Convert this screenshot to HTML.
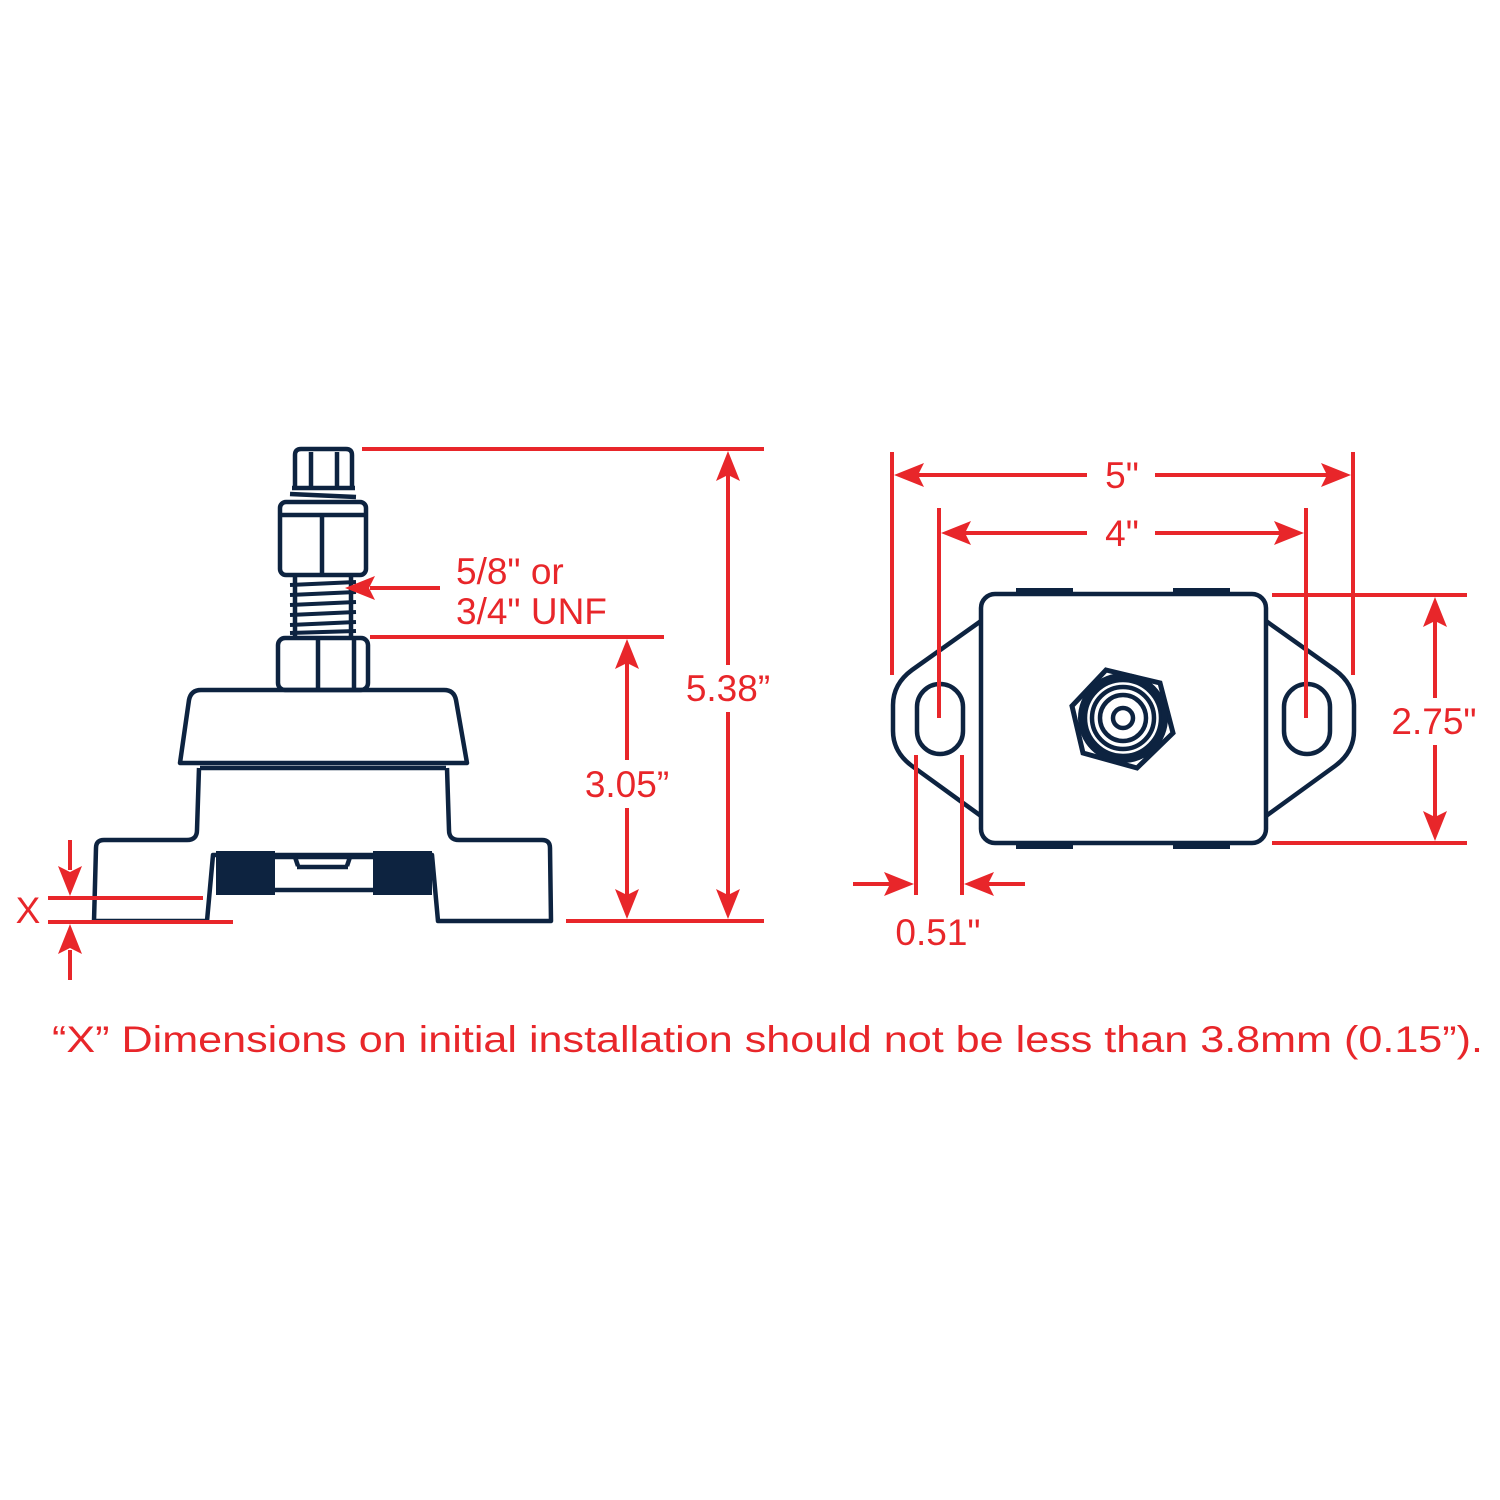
<!DOCTYPE html>
<html><head><meta charset="utf-8"><style>
html,body{margin:0;padding:0;background:#fff;}
svg{display:block;}
text{font-family:"Liberation Sans",sans-serif;fill:#e8262a;}
</style></head><body>
<svg width="1500" height="1500" viewBox="0 0 1500 1500" xmlns="http://www.w3.org/2000/svg">
<rect width="1500" height="1500" fill="#fff"/>
<g fill="none" stroke="#0d2340" stroke-width="4.5" stroke-linejoin="round">
  <!-- top nut -->
  <path d="M295,487 L295,455 Q295,449 301,449 L346,449 Q352,449 352,455 L352,487"/>
  <line x1="311" y1="452" x2="311" y2="487"/><line x1="337" y1="452" x2="337" y2="487"/>
  <line x1="292" y1="488" x2="355" y2="488"/>
  <line x1="290" y1="494" x2="356" y2="497"/>
  <!-- big nut -->
  <rect x="280" y="502" width="86" height="73" rx="6"/>
  <line x1="282" y1="515" x2="364" y2="515"/>
  <line x1="322" y1="515" x2="322" y2="573"/>
  <!-- thread -->
  <line x1="295" y1="577" x2="295" y2="637"/><line x1="351" y1="577" x2="351" y2="637"/>
  <g stroke-width="4"><line x1="290" y1="585" x2="356" y2="582"/><line x1="290" y1="595" x2="356" y2="592"/><line x1="290" y1="605" x2="356" y2="602"/><line x1="290" y1="615" x2="356" y2="612"/><line x1="290" y1="625" x2="356" y2="622"/><line x1="290" y1="633" x2="356" y2="631"/></g>
  <!-- lower nut -->
  <rect x="278" y="638" width="90" height="52" rx="7"/>
  <line x1="318" y1="640" x2="318" y2="690"/><line x1="354" y1="640" x2="354" y2="690"/>
  <!-- cap -->
  <path d="M180,763 L189,700 Q191,690 201,690 L444,690 Q454,690 456,700 L467,763 Z"/>
  <line x1="200" y1="768" x2="446" y2="768"/>
  <!-- body -->
  <path d="M199,768 L197,830 Q197,840 187,840 L104,840 Q96,840 96,848 L94,921 L207,921 L213,855 L432,855 L438,921 L551,921 L550,848 Q550,840 542,840 L459,840 Q449,840 449,830 L447,768"/>
  <line x1="275" y1="857" x2="373" y2="857"/>
  <line x1="275" y1="890" x2="373" y2="890"/>
  <line x1="295" y1="857" x2="298" y2="866"/><line x1="350" y1="857" x2="347" y2="866"/>
  <line x1="297" y1="867" x2="348" y2="867"/>
</g>
<rect x="216" y="851" width="59" height="44" fill="#0d2340"/>
<rect x="373" y="851" width="59" height="44" fill="#0d2340"/>

<!-- right figure -->
<g fill="none" stroke="#0d2340" stroke-width="4.5" stroke-linejoin="round">
  <path d="M981,621 L912,670 Q893,684 893,705 L893,731 Q893,752 912,766 L981,816"/>
  <path d="M1266,621 L1335,670 Q1354,684 1354,705 L1354,731 Q1354,752 1335,766 L1266,816"/>
  <rect x="917" y="684" width="46" height="70" rx="23"/>
  <rect x="1284" y="684" width="46" height="70" rx="23"/>
  <rect x="981" y="594" width="285" height="249" rx="14"/>
  <circle cx="1123" cy="718" r="38"/>
  <circle cx="1123" cy="718" r="31"/>
  <circle cx="1123" cy="718" r="23"/>
  <circle cx="1123" cy="718" r="10"/>
</g>
<polygon points="1106,670 1160,683 1173,733 1137,768 1083,753 1072,706" fill="none" stroke="#0d2340" stroke-width="5"/>
<circle cx="1123" cy="718" r="42" fill="none" stroke="#0d2340" stroke-width="6"/>
<g fill="#0d2340">
  <rect x="1016" y="588" width="57" height="8"/><rect x="1173" y="588" width="57" height="8"/>
  <rect x="1016" y="841" width="57" height="8"/><rect x="1173" y="841" width="57" height="8"/>
</g>

<!-- red dimensions -->
<g stroke="#e8262a" stroke-width="4" fill="none">
  <line x1="362" y1="449" x2="764" y2="449"/>
  <line x1="370" y1="637" x2="664" y2="637"/>
  <line x1="566" y1="921" x2="764" y2="921"/>
  <line x1="728" y1="470" x2="728" y2="665"/><line x1="728" y1="712" x2="728" y2="900"/>
  <line x1="627" y1="660" x2="627" y2="760"/><line x1="627" y1="808" x2="627" y2="900"/>
  <line x1="370" y1="588" x2="440" y2="588"/>
  <line x1="48" y1="898" x2="203" y2="898"/>
  <line x1="48" y1="922" x2="233" y2="922"/>
  <line x1="70" y1="840" x2="70" y2="870"/><line x1="70" y1="950" x2="70" y2="980"/>
  <!-- right -->
  <line x1="892" y1="452" x2="892" y2="675"/><line x1="1353" y1="452" x2="1353" y2="675"/>
  <line x1="915" y1="475" x2="1087" y2="475"/><line x1="1155" y1="475" x2="1330" y2="475"/>
  <line x1="939" y1="508" x2="939" y2="718"/><line x1="1306" y1="508" x2="1306" y2="718"/>
  <line x1="960" y1="533" x2="1087" y2="533"/><line x1="1155" y1="533" x2="1285" y2="533"/>
  <line x1="1272" y1="595" x2="1467" y2="595"/><line x1="1272" y1="843" x2="1467" y2="843"/>
  <line x1="1435" y1="615" x2="1435" y2="698"/><line x1="1435" y1="745" x2="1435" y2="822"/>
  <line x1="916" y1="755" x2="916" y2="895"/><line x1="962" y1="755" x2="962" y2="895"/>
  <line x1="853" y1="884" x2="895" y2="884"/><line x1="983" y1="884" x2="1025" y2="884"/>
</g>
<g fill="#e8262a">
  <!-- vertical up arrows -->
  <path d="M728,451 l-12,30 l12,-6 l12,6 z"/>
  <path d="M728,919 l-12,-30 l12,6 l12,-6 z"/>
  <path d="M627,639 l-12,30 l12,-6 l12,6 z"/>
  <path d="M627,919 l-12,-30 l12,6 l12,-6 z"/>
  <path d="M345,588 l30,-12 l-6,12 l6,12 z"/>
  <path d="M70,896 l-12,-30 l12,6 l12,-6 z"/>
  <path d="M70,924 l-12,30 l12,-6 l12,6 z"/>
  <path d="M894,475 l30,-12 l-6,12 l6,12 z"/>
  <path d="M1351,475 l-30,-12 l6,12 l-6,12 z"/>
  <path d="M941,533 l30,-12 l-6,12 l6,12 z"/>
  <path d="M1304,533 l-30,-12 l6,12 l-6,12 z"/>
  <path d="M1435,597 l-12,30 l12,-6 l12,6 z"/>
  <path d="M1435,841 l-12,-30 l12,6 l12,-6 z"/>
  <path d="M914,884 l-30,-12 l6,12 l-6,12 z"/>
  <path d="M964,884 l30,-12 l-6,12 l6,12 z"/>
</g>
<g font-size="37">
  <text x="456" y="584">5/8" or</text>
  <text x="456" y="624">3/4" UNF</text>
  <text x="728" y="701" text-anchor="middle">5.38”</text>
  <text x="627" y="797" text-anchor="middle">3.05”</text>
  <text x="28" y="923" text-anchor="middle">X</text>
  <text x="1122" y="488" text-anchor="middle">5"</text>
  <text x="1122" y="546" text-anchor="middle">4"</text>
  <text x="1434" y="734" text-anchor="middle">2.75"</text>
  <text x="938" y="945" text-anchor="middle">0.51"</text>
  <text x="52" y="1052" textLength="1431" lengthAdjust="spacingAndGlyphs">“X” Dimensions on initial installation should not be less than 3.8mm (0.15”).</text>
</g>
</svg>
</body></html>
